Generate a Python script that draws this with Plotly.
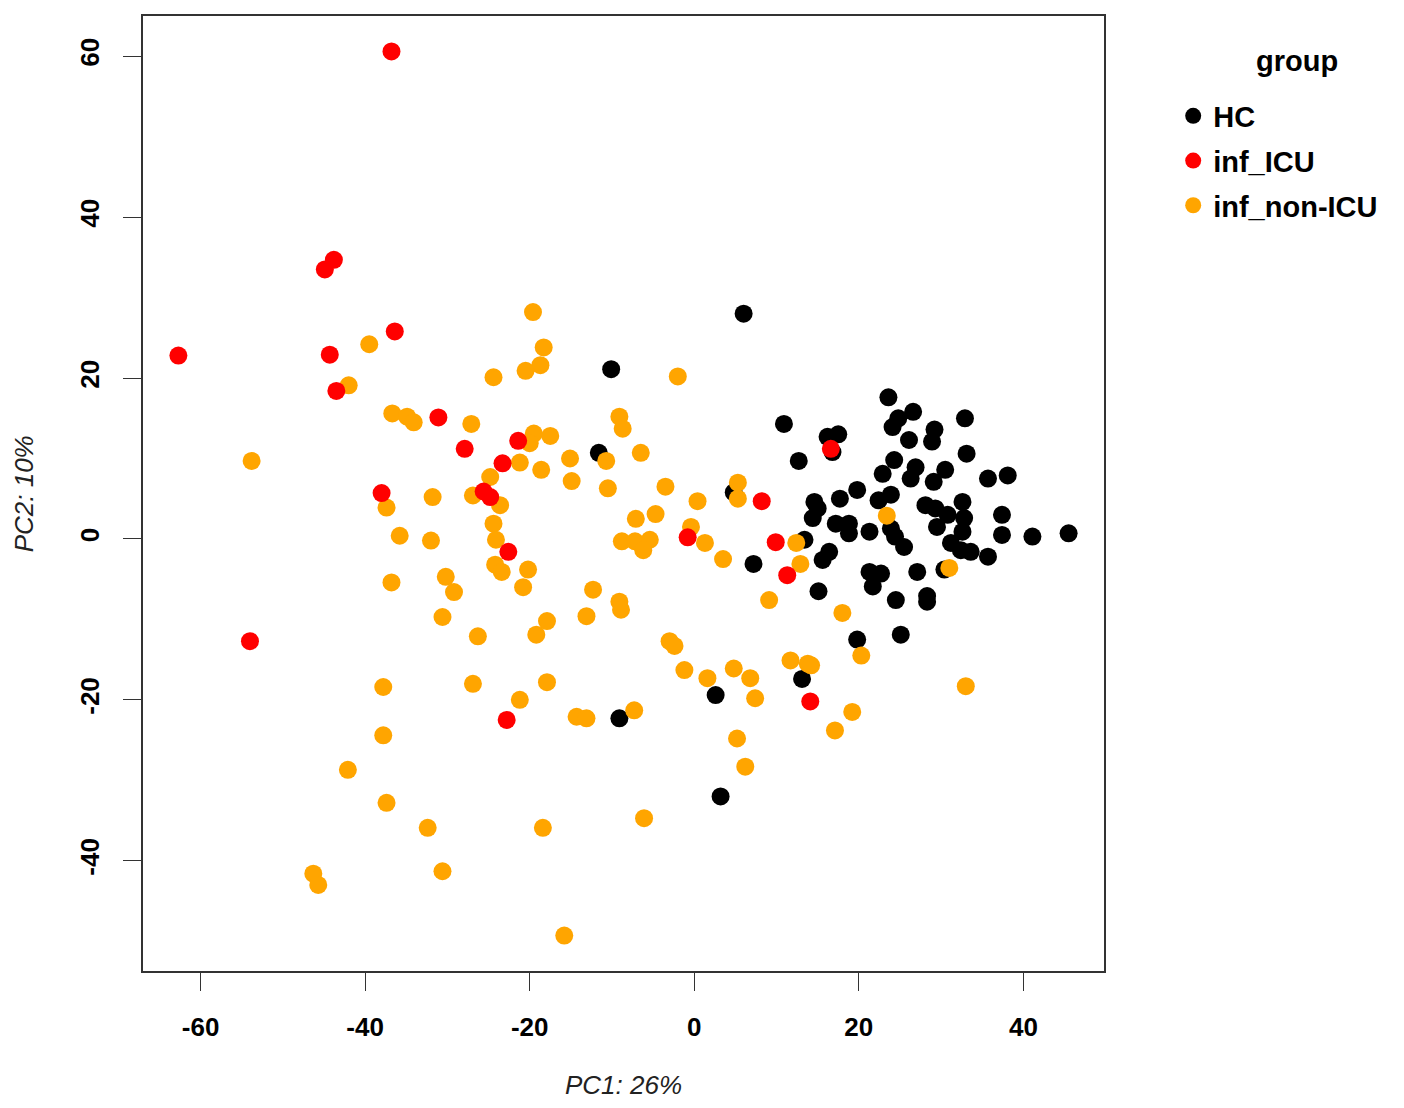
import plotly.graph_objects as go

# PCA scores
hc_pc1 = [6.0, -10.1, -11.6, 4.8, 7.2, -9.1, 2.6, 3.2, 13.1, 10.9, 12.7, 16.2, 17.5, 16.8,
          23.6, 26.6, 24.8, 24.1, 32.9, 29.2, 28.9, 26.1, 33.1, 24.3, 22.9, 26.9, 26.3, 30.5,
          29.1, 35.7, 38.1, 19.8, 17.7, 14.6, 15.0, 14.4, 22.4, 23.9, 32.6, 28.1, 29.3, 30.8,
          32.8, 37.4, 29.5, 32.6, 37.4, 41.1, 45.5, 17.2, 18.8, 18.8, 21.3, 23.9, 24.4, 25.5,
          31.2, 32.4, 33.6, 35.7, 16.4, 15.6, 13.4, 21.3, 22.7, 21.7, 27.1, 30.4, 15.1, 24.5,
          28.3, 28.3, 19.8, 25.1]
hc_pc2 = [28.0, 21.1, 10.7, 5.8, -3.1, -22.3, -19.4, -32.0, -17.4, 14.3, 9.7, 12.7, 13.0, 10.8,
          17.6, 15.8, 15.0, 13.9, 15.0, 13.6, 12.1, 12.3, 10.6, 9.8, 8.1, 8.9, 7.5, 8.6,
          7.1, 7.5, 7.9, 6.1, 5.0, 4.6, 3.8, 2.6, 4.8, 5.5, 4.6, 4.2, 3.8, 3.0,
          2.6, 3.0, 1.5, 0.9, 0.5, 0.3, 0.7, 1.9, 1.9, 0.7, 0.9, 1.3, 0.3, -1.0,
          -0.5, -1.4, -1.6, -2.2, -1.6, -2.6, -0.1, -4.1, -4.3, -5.9, -4.1, -3.8, -6.5, -7.6,
          -7.1, -7.8, -12.5, -11.9]

icu_pc1 = [-36.8, -43.8, -44.9, -44.3, -36.4, -62.7, -43.5, -31.1, -27.9, -21.4, -23.3, -38.0,
           -25.6, -24.8, -22.6, -54.0, -22.8, -0.8, 8.2, 9.9, 11.3, 16.6, 14.1]
icu_pc2 = [60.6, 34.7, 33.5, 22.9, 25.8, 22.8, 18.4, 15.1, 11.2, 12.2, 9.4, 5.7,
           5.9, 5.2, -1.6, -12.7, -22.5, 0.2, 4.7, -0.4, -4.5, 11.2, -20.2]

nonicu_pc1 = [-19.6, -39.5, -42.0, -24.4, -18.3, -18.7, -20.5, -36.7, -34.9, -34.1, -27.1, -19.5,
              -17.5, -20.0, -21.2, -18.6, -15.1, -14.9, -10.7, -10.5, -9.1, -8.7, -53.8, -31.8,
              -37.4, -26.9, -24.8, -23.6, -24.4, -24.1, -35.8, -32.0, -36.8, -30.2, -29.2, -30.6,
              -24.2, -23.4, -20.2, -20.8, -26.3, -17.9, -19.2, -12.3, -13.1, -9.1, -8.9,
              -37.8, -37.8, -42.1, -37.4, -32.4, -18.4, -30.6, -46.3, -45.7, -15.8, -26.9, -17.9,
              -21.2, -14.3, -13.1,
              -2.0, -6.5, -3.5, 0.4, 5.3, 5.3, -4.7, -7.1, -8.8, -7.2, -5.4, -6.2, -0.4, 1.3,
              3.5, 12.4, 12.9, 9.1, 18.0,
              -3.0, -2.4, -1.2, 1.6, 4.8, 6.8, 7.4, 11.7, 13.8, 14.2, 19.2, 17.1, 20.3, -7.3,
              5.2, 6.2, -6.1,
              23.4, 31.0, 33.0]
nonicu_pc2 = [28.2, 24.2, 19.1, 20.1, 23.8, 21.6, 20.9, 15.6, 15.2, 14.5, 14.3, 13.1,
              12.8, 11.9, 9.5, 8.6, 10.0, 7.2, 9.7, 6.3, 15.2, 13.7, 9.7, 5.2,
              3.9, 5.4, 7.7, 4.2, 1.9, -0.1, 0.4, -0.2, -5.4, -4.7, -6.6, -9.7,
              -3.2, -4.1, -3.8, -6.0, -12.1, -10.2, -11.9, -6.3, -9.6, -7.8, -8.8,
              -18.4, -24.4, -28.7, -32.8, -35.9, -35.9, -41.3, -41.6, -43.0, -49.3, -18.0, -17.8,
              -20.0, -22.1, -22.3,
              20.2, 10.7, 6.5, 4.7, 7.0, 5.0, 3.1, 2.5, -0.3, -0.3, -0.1, -1.4, 1.5, -0.5,
              -2.5, -0.5, -3.1, -7.6, -9.2,
              -12.7, -13.3, -16.3, -17.3, -16.1, -17.3, -19.8, -15.1, -15.5, -15.7, -21.5, -23.8, -14.5, -21.3,
              -24.8, -28.3, -34.7,
              2.9, -3.6, -18.3]

x_ticks = [-60, -40, -20, 0, 20, 40]
x_tick_text = ["-60", "-40", "-20", "0", "20", "40"]
y_ticks = [-40, -20, 0, 20, 40, 60]
y_tick_text = ["-40", "-20", "0", "20", "40", "60"]

FONT = "Liberation Sans, Arial, sans-serif"

fig = go.Figure()

def add_group(x, y, name, color, rank):
    fig.add_trace(go.Scatter(
        x=x, y=y, mode="markers", name=name,
        marker=dict(color=color, size=18, line=dict(width=0)),
        legendrank=rank, legendgroup=name,
    ))

# drawing order: HC, then non-ICU, then ICU on top
add_group(hc_pc1, hc_pc2, "HC", "#000000", 1)
add_group(nonicu_pc1, nonicu_pc2, "inf_non-ICU", "#FFA500", 3)
add_group(icu_pc1, icu_pc2, "inf_ICU", "#FF0000", 2)

axis_style = dict(
    showgrid=False, zeroline=False,
    showline=True, mirror=True, linecolor="#333333", linewidth=1.5,
    ticks="outside", ticklen=18, tickwidth=1.2, tickcolor="#333333",
    tickfont=dict(family=FONT, size=26, color="black", weight="bold"),
    ticklabelstandoff=14,
)

fig.update_xaxes(range=[-67.0, 49.8], tickvals=x_ticks, ticktext=x_tick_text, **axis_style)
fig.update_yaxes(range=[-53.7, 65.0], tickvals=y_ticks, ticktext=y_tick_text,
                 tickangle=-90, **axis_style)

fig.add_annotation(text="<i>PC1: 26%</i>", xref="paper", yref="paper", x=0.5, y=-0.119,
                   showarrow=False, font=dict(family=FONT, size=26, color="#222222"),
                   xanchor="center", yanchor="middle")
fig.add_annotation(text="<i>PC2: 10%</i>", xref="paper", yref="paper", x=-0.124, y=0.5,
                   showarrow=False, textangle=-90, font=dict(family=FONT, size=26, color="#222222"),
                   xanchor="center", yanchor="middle")
# legend title placed by hand to get the gap below it
fig.add_annotation(text="<b>group</b>", xref="paper", yref="paper", x=1.201, y=0.5 + (492.5 - 59) / 957,
                   showarrow=False, font=dict(family=FONT, size=29, color="black"),
                   xanchor="center", yanchor="middle")

fig.update_layout(
    width=1388, height=1092,
    margin=dict(l=135, r=292, t=8, b=129, autoexpand=False),
    plot_bgcolor="white", paper_bgcolor="white",
    legend=dict(
        x=1.072, y=0.922, xanchor="left", yanchor="top",
        font=dict(family=FONT, size=29, color="black", weight="bold"),
        tracegroupgap=4, itemsizing="trace",
    ),
)

fig.write_html("out.html")
